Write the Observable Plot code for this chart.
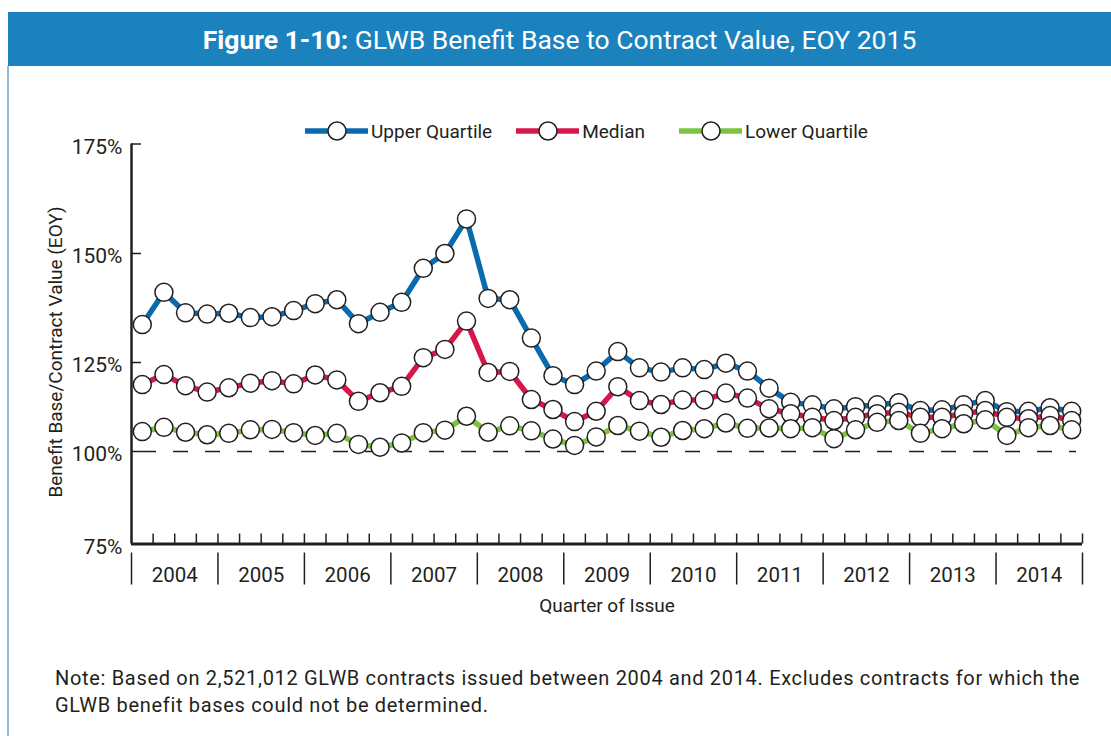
<!DOCTYPE html>
<html><head><meta charset="utf-8">
<script src="https://cdn.jsdelivr.net/npm/d3@7"></script>
<script src="https://cdn.jsdelivr.net/npm/@observablehq/plot@0.6"></script>
<style>
body{margin:0;background:#fff;font-family:Roboto,"DejaVu Sans",sans-serif;color:#231f20}
#page{position:relative;width:1111px;height:736px;overflow:hidden}
#bar{position:absolute;left:8px;top:12px;right:0;height:54px;background:#1b82bd;color:#fff;font-size:26.5px;display:flex;align-items:center;justify-content:center}
#bar b{font-weight:700}
#border{position:absolute;left:7px;top:66px;width:2px;bottom:0;background:#8dbbe0}
#legend{position:absolute;top:119px;left:305px;display:flex;align-items:center;font-size:19px;height:24px}
.item{display:flex;align-items:center;margin-right:24px}
.item:nth-child(2){margin-right:34px}
.item svg{margin-right:3px}
#chart{position:absolute;left:0;top:132px}
#note{position:absolute;left:55px;top:665px;font-size:20px;line-height:27px;letter-spacing:0.68px}
</style></head>
<body><div id="page">
<div id="bar"><span><b>Figure 1-10:</b> GLWB Benefit Base to Contract Value, EOY 2015</span></div>
<div id="border"></div>
<div id="legend"></div>
<div id="chart"></div>
<div id="note">Note: Based on 2,521,012 GLWB contracts issued between 2004 and 2014. Excludes contracts for which the<br>GLWB benefit bases could not be determined.</div>
</div>
<script>
const years = [2004,2005,2006,2007,2008,2009,2010,2011,2012,2013,2014];
const quarterNames = ["Q1","Q2","Q3","Q4"];
const seriesNames = ["Upper Quartile","Median","Lower Quartile"];
const seriesColors = ["#0a6aae","#d6174b","#7dc242"];
const yTicks = [75,100,125,150,175];
const upper = [133.7,141.1,136.4,136.1,136.3,135.3,135.5,136.9,138.5,139.4,133.9,136.5,138.8,146.6,150.0,157.9,139.7,139.4,130.6,121.3,118.8,122.6,127.5,123.5,122.3,123.5,123.0,124.8,122.6,117.8,113.8,113.1,112.0,112.6,113.1,113.7,111.5,111.7,113.1,114.3,111.2,111.3,112.3,111.3];
const median = [118.8,121.6,118.5,116.7,117.9,119.2,119.9,119.0,121.5,120.1,114.1,116.5,118.3,126.1,128.0,134.5,122.2,122.5,114.6,111.8,108.4,111.3,118.2,114.3,113.2,114.5,114.5,116.4,115.0,112.0,110.6,109.6,108.7,109.6,110.6,111.0,109.6,109.6,110.6,111.5,109.6,109.2,110.1,108.7];
const lower = [105.6,106.8,105.4,104.7,105.1,106.1,106.2,105.3,104.5,105.1,102.0,101.2,102.4,105.3,106.0,109.9,105.4,107.2,105.8,103.5,101.7,104.1,107.3,105.7,104.0,105.9,106.4,108.0,106.5,106.6,106.4,106.7,103.6,106.1,108.2,108.7,105.1,106.4,107.8,108.9,104.5,106.7,107.3,106.1];

const quarters = years.flatMap(y => quarterNames.map(q => `${y} ${q}`));
const seriesValues = [upper, median, lower];
const rows = seriesNames.flatMap((s, k) => seriesValues[k].map((v, i) => ({series: s, quarter: quarters[i], pos: i + 0.5, value: v})));
const nQ = quarters.length;
const quarterBounds = d3.range(1, nQ + 1);
const yearBounds = d3.range(0, years.length + 1).map(k => k * quarterNames.length);
const yearCenters = years.map((y, k) => ({year: y, pos: k * quarterNames.length + quarterNames.length / 2}));
const ink = "#231f20";

// The original axis spaces its gridlines unevenly; reproduce that spacing.
const yWarp = d3.scaleLinear().domain(yTicks).range([0, 92.5, 181.5, 290.5, 400]);

const chart = Plot.plot({
  width: 1111, height: 490,
  marginLeft: 131, marginRight: 29, marginTop: 11.5, marginBottom: 78.5,
  style: {fontFamily: "Roboto, sans-serif", color: ink, background: "transparent", overflow: "visible"},
  x: {domain: [0, nQ], axis: null},
  y: {transform: yWarp, domain: [0, 400], axis: null},
  color: {domain: seriesNames, range: seriesColors},
  marks: [
    Plot.ruleY([100], {x1: 0, x2: nQ, insetLeft: 10, insetRight: 6, stroke: ink, strokeWidth: 1.5, strokeDasharray: "15,17"}),
    Plot.ruleX([0], {y1: yTicks[0], y2: yTicks[yTicks.length - 1], stroke: ink, strokeWidth: 2.5}),
    Plot.ruleY([yTicks[0]], {x1: 0, x2: nQ, stroke: ink, strokeWidth: 3}),
    Plot.ruleY(yTicks.slice(1), {x1: 0, x2: 0, insetRight: -10, stroke: ink, strokeWidth: 1.5}),
    Plot.text(yTicks, {x: 0, y: d => d, text: d => `${d}%`, textAnchor: "end", dx: -9, dy: 3, fontSize: 21, fill: ink}),
    Plot.ruleX(quarterBounds, {y1: yTicks[0], y2: yTicks[0], insetTop: -10, stroke: ink, strokeWidth: 1.5}),
    Plot.ruleX(yearBounds, {y1: yTicks[0], y2: yTicks[0], insetTop: 9, insetBottom: -41, stroke: ink, strokeWidth: 1.5}),
    Plot.text(yearCenters, {x: "pos", y: () => yTicks[0], text: d => String(d.year), dy: 31, fontSize: 20.5, fill: ink}),
    Plot.text(["Quarter of Issue"], {frameAnchor: "bottom", dy: 68, fontSize: 19, fill: ink}),
    Plot.text(["Benefit Base/Contract Value (EOY)"], {frameAnchor: "left", textAnchor: "middle", rotate: -90, dx: -76, dy: 8, fontSize: 19, fill: ink}),
    Plot.line(rows, {x: "pos", y: "value", z: "series", stroke: "series", strokeWidth: 5.5}),
    Plot.dot(rows, {x: "pos", y: "value", r: 9, fill: "white", stroke: ink, strokeWidth: 1.5})
  ]
});
document.getElementById("chart").appendChild(chart);

const legend = document.getElementById("legend");
seriesNames.forEach((s, k) => {
  const item = document.createElement("div");
  item.className = "item";
  item.innerHTML = `<svg width="63" height="24"><line x1="0" x2="63" y1="12" y2="12" stroke="${seriesColors[k]}" stroke-width="5.5"/><circle cx="32" cy="12" r="9" fill="white" stroke="${ink}" stroke-width="1.5"/></svg><span>${s}</span>`;
  legend.appendChild(item);
});
</script>
</body></html>
